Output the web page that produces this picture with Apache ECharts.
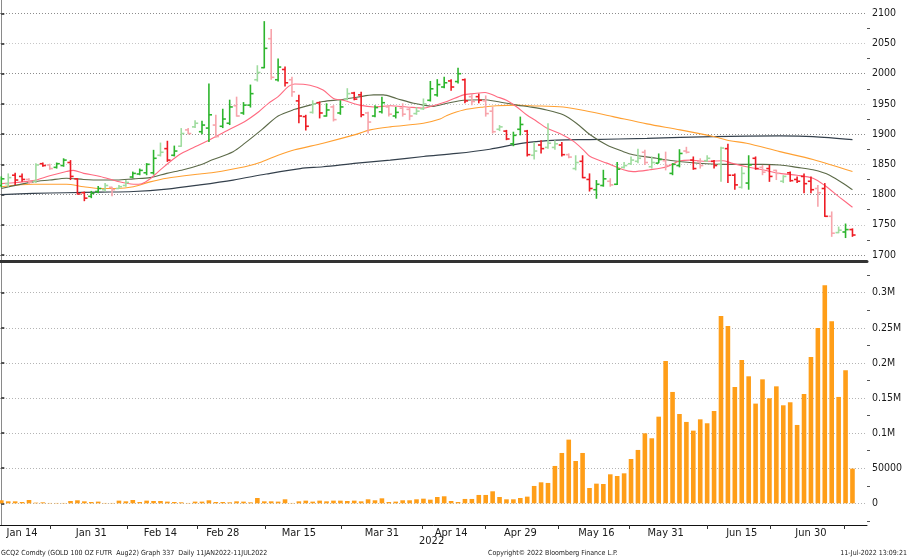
<!DOCTYPE html>
<html>
<head>
<meta charset="utf-8">
<title>GCQ2 Comdty</title>
<script src="https://cdn.jsdelivr.net/npm/echarts@6.0.0/dist/echarts.min.js"></script>
<style>
  html, body { margin: 0; padding: 0; background: #fff; }
  #chart { width: 908px; height: 559px; }
</style>
</head>
<body>
<div id="chart"></div>
<script>
// bars are indexed by trading day: 0 = 11 Jan 2022 ... 123 = 11 Jul 2022
const dateLabelIdx = [3, 13, 23, 32, 43, 55, 65, 75, 86, 96, 107, 117]
const dateLabels = ['Jan 14', 'Jan 31', 'Feb 14', 'Feb 28', 'Mar 15', 'Mar 31',
  'Apr 14', 'Apr 29', 'May 16', 'May 31', 'Jun 15', 'Jun 30']
const dateTickIdx = [7, 18.2, 28.3, 38.2, 49.1, 60.9, 69.9, 80.5, 90.8, 102, 111.1, 121.8]

const opens = [
  1815, 1818, 1832, 1830, 1825, 1822, 1851, 1849, 1845, 1848,
  1853, 1826, 1803, 1797, 1805, 1808, 1812, 1810, 1815, 1829,
  1834, 1836, 1836, 1865, 1876, 1865, 1880, 1907, 1912, 1904,
  1910, 1915, 1913, 1918, 1947, 1935, 1948, 1990, 2010, 2058,
  1990, 2007, 1990, 1955, 1929, 1936, 1952, 1930, 1945, 1935,
  1958, 1968, 1965, 1935, 1930, 1937, 1945, 1930, 1943, 1941,
  1934, 1942, 1956, 1965, 1978, 1988, 1987, 1990, 1962, 1962,
  1955, 1938, 1908, 1905, 1884, 1908, 1905, 1865, 1882, 1878,
  1878, 1882, 1866, 1843, 1855, 1825, 1808, 1815, 1822, 1817,
  1845, 1851, 1855, 1870, 1846, 1852, 1856, 1835, 1848, 1872,
  1857, 1854, 1856, 1855, 1850, 1876, 1832, 1812, 1819, 1860,
  1845, 1843, 1840, 1822, 1836, 1825, 1830, 1822, 1810, 1810,
  1764, 1737, 1738, 1742]
const highs = [
  1830, 1835, 1836, 1835, 1827, 1852, 1853, 1851, 1853, 1860,
  1857, 1827, 1805, 1806, 1814, 1819, 1813, 1816, 1824, 1838,
  1843, 1852, 1874, 1886, 1889, 1881, 1910, 1910, 1923, 1922,
  1984, 1932, 1942, 1957, 1962, 1953, 1982, 2014, 2087, 2074,
  2025, 2012, 1995, 1965, 1932, 1956, 1954, 1951, 1948, 1956,
  1976, 1970, 1970, 1937, 1948, 1962, 1948, 1945, 1951, 1945,
  1945, 1959, 1988, 1991, 1995, 1991, 2010, 1992, 1967, 1967,
  1964, 1945, 1915, 1907, 1904, 1929, 1907, 1887, 1890, 1918,
  1890, 1887, 1868, 1865, 1865, 1835, 1824, 1841, 1827, 1854,
  1854, 1863, 1876, 1874, 1863, 1868, 1871, 1852, 1875, 1879,
  1863, 1860, 1865, 1857, 1879, 1884, 1835, 1846, 1865, 1863,
  1849, 1849, 1841, 1832, 1838, 1830, 1835, 1830, 1816, 1819,
  1772, 1747, 1752, 1744]
const lows = [
  1812, 1813, 1816, 1821, 1817, 1819, 1846, 1841, 1843, 1846,
  1824, 1800, 1789, 1794, 1802, 1805, 1797, 1809, 1813, 1827,
  1832, 1832, 1833, 1863, 1854, 1863, 1879, 1900, 1910, 1900,
  1887, 1894, 1910, 1915, 1929, 1932, 1944, 1987, 2009, 1990,
  1987, 1979, 1962, 1918, 1906, 1934, 1926, 1929, 1921, 1932,
  1956, 1956, 1928, 1901, 1928, 1934, 1929, 1926, 1929, 1923,
  1932, 1940, 1954, 1962, 1976, 1972, 1984, 1951, 1948, 1951,
  1929, 1901, 1905, 1890, 1880, 1898, 1863, 1858, 1868, 1876,
  1874, 1863, 1860, 1840, 1827, 1805, 1793, 1813, 1813, 1816,
  1843, 1849, 1852, 1849, 1843, 1852, 1840, 1832, 1845, 1868,
  1841, 1843, 1854, 1843, 1821, 1819, 1808, 1810, 1808, 1841,
  1832, 1821, 1824, 1819, 1821, 1819, 1802, 1802, 1780, 1763,
  1730, 1736, 1728, 1730]
const closes = [
  1826, 1828, 1824, 1825, 1820, 1849, 1848, 1843, 1851, 1857,
  1830, 1801, 1794, 1802, 1810, 1815, 1808, 1813, 1820, 1835,
  1840, 1850, 1860, 1870, 1857, 1872, 1901, 1901, 1918, 1915,
  1932, 1896, 1925, 1945, 1930, 1948, 1967, 2002, 2042, 1994,
  2011, 1985, 1970, 1930, 1913, 1950, 1935, 1940, 1924, 1945,
  1967, 1958, 1932, 1920, 1944, 1952, 1933, 1936, 1933, 1930,
  1938, 1950, 1975, 1982, 1985, 1978, 2000, 1955, 1954, 1956,
  1934, 1904, 1912, 1892, 1898, 1916, 1866, 1872, 1876, 1885,
  1884, 1866, 1862, 1853, 1828, 1810, 1817, 1826, 1816, 1842,
  1848, 1857, 1860, 1853, 1853, 1858, 1848, 1850, 1868, 1870,
  1843, 1848, 1860, 1848, 1877, 1832, 1816, 1835, 1849, 1843,
  1837, 1830, 1835, 1830, 1823, 1822, 1818, 1808, 1803, 1764,
  1736, 1741, 1742, 1733]
// bar shade as drawn: G green, g pale green, R red, r pale red
const shades = ('GgRRrgRrGG' + 'RRRGGgrggG' + 'GGGgRGgrgG' + 'GrGGrGGgGr' +
  'GRrRRgRGrG' + 'gRRrGGrGrr' + 'ggGGGRGRrR' + 'rrgRGGRgRg' +
  'gRrgRRGGrG' + 'gggrgGrGGr' + 'RrgRgRRgGR' + 'rRrgRRRRrR' + 'rgGR').split('')

const volumes = [
  4300, 2800, 2800, 1900, 4700, 950, 1400, 500, 500, 500,
  3300, 4300, 2800, 1900, 2400, 500, 500, 3800, 2800, 4700,
  1900, 3800, 3300, 3300, 2400, 1900, 1400, 500, 2400, 2400,
  4300, 1900, 1900, 1400, 2800, 2400, 1400, 7600, 2800, 2800,
  2400, 5700, 500, 2800, 3800, 2400, 3800, 2800, 3800, 3800,
  3300, 3800, 2800, 5700, 4300, 7100, 1900, 2400, 4300, 4300,
  5700, 6600, 5200, 9000, 10000, 3300, 1900, 6200, 6200, 11900,
  11900, 17100, 9000, 5700, 5700, 7600, 9500, 24700, 29900, 29000,
  53200, 71700, 90700, 60300, 71700, 21800, 28000, 27500, 41300, 38900,
  42700, 63100, 76000, 99700, 92600, 123400, 202700, 158600, 127200, 115900,
  103500, 119600, 114000, 131500, 266800, 252600, 165700, 204200, 180900, 142000,
  176600, 149600, 166600, 139600, 143900, 111600, 155700, 208400, 249700, 310500,
  259200, 151500, 189400, 49400]

// moving averages: [bar index, price]
const maFast = [[0, 1818], [2.2, 1820], [4.6, 1823], [7, 1831], [9.4, 1838], [10.4, 1840],
  [11.9, 1835], [14.3, 1830], [16.7, 1822], [19.1, 1817], [20.3, 1818], [21.5, 1826],
  [22.7, 1838], [25.6, 1865], [28, 1879], [30, 1890], [31, 1896], [32.8, 1907],
  [35.2, 1921], [37.2, 1937], [38.6, 1951], [40, 1962], [41.5, 1979], [42.4, 1983],
  [44.6, 1981], [46.5, 1973], [48, 1959], [49.4, 1956], [51.8, 1948], [53.8, 1945],
  [56.2, 1947], [58.6, 1945], [61, 1943], [62.4, 1947], [64.4, 1954], [66.8, 1965],
  [68.2, 1967], [69.9, 1969], [71.6, 1962], [73, 1956], [74.5, 1945], [75.9, 1932],
  [77.4, 1921], [78.8, 1910], [80.7, 1901], [82.7, 1888], [84.1, 1874], [85.1, 1863],
  [87.5, 1852], [89.9, 1841], [91.3, 1838], [93.7, 1841], [96.2, 1846], [98.1, 1856],
  [99.5, 1857], [101.9, 1855], [104.3, 1856], [105.5, 1852], [107.7, 1846], [110, 1841],
  [112.5, 1835], [115, 1832], [117.3, 1827], [119, 1815], [121.2, 1795], [123, 1779]]
const maMid = [[0, 1810], [4.6, 1821], [7, 1824], [9.4, 1827], [11.9, 1825], [14.3, 1824],
  [16.7, 1824], [19.1, 1826], [21.5, 1828], [23.9, 1835], [26.3, 1841], [28.7, 1849],
  [30.4, 1857], [33.5, 1871], [35.2, 1885], [37.6, 1907], [40, 1930], [42.4, 1941],
  [44.6, 1948], [46.5, 1954], [49, 1957], [51.4, 1961], [53.8, 1965], [55.2, 1965],
  [57.1, 1959], [59.6, 1951], [61, 1948], [62.4, 1946], [64.4, 1951], [66.8, 1956],
  [69.7, 1957], [71.6, 1954], [74.5, 1948], [76.4, 1945], [78.8, 1940], [81.2, 1932],
  [83.1, 1918], [85.1, 1899], [87.5, 1882], [89.9, 1871], [91.3, 1866], [94.7, 1860],
  [97.1, 1856], [99.5, 1853], [101.9, 1851], [104.3, 1850], [107, 1850], [110, 1850],
  [112.5, 1849], [115, 1845], [117.3, 1841], [119.7, 1832], [123, 1808]]
const maSlow = [[0, 1813], [4.6, 1817], [9.4, 1817], [11.9, 1813], [14.3, 1810], [16.7, 1810],
  [19.1, 1813], [21.5, 1821], [23.9, 1827], [28.7, 1834], [30.4, 1836], [35.2, 1846],
  [37.6, 1854], [40, 1865], [42.4, 1874], [46.5, 1885], [51.4, 1900], [53.3, 1907],
  [56.2, 1912], [61, 1918], [63.4, 1925], [64.4, 1931], [66.8, 1940], [69.7, 1945],
  [71.6, 1947], [74.5, 1948], [76.4, 1947], [81.2, 1945], [85.1, 1937], [88.4, 1929],
  [93.3, 1917], [98.1, 1907], [102.9, 1896], [105.3, 1889], [107.7, 1885], [112.5, 1871],
  [117.3, 1858], [123, 1838]]
const maLong = [[0, 1800], [4.6, 1802], [9.4, 1803], [14.3, 1804], [19.1, 1805], [23.9, 1809],
  [28.7, 1816], [33.5, 1824], [38.3, 1834], [43.2, 1843], [46.5, 1846], [51.4, 1852],
  [56.2, 1857], [61, 1863], [65.8, 1868], [70.6, 1875], [75.4, 1885], [80.3, 1890],
  [85, 1891], [93.3, 1893], [102.9, 1896], [112.5, 1897], [117.3, 1896], [123, 1891]]

const priceTicks = [1700, 1750, 1800, 1850, 1900, 1950, 2000, 2050, 2100]
const priceMinorTicks = [1725, 1775, 1825, 1875, 1925, 1975, 2025, 2075]
const volTicks = [0, 50000, 100000, 150000, 200000, 250000, 300000]
const volTickLabels = ['0', '50000', '0.1M', '0.15M', '0.2M', '0.25M', '0.3M']
const volMinorTicks = [-25000, 25000, 75000, 125000, 175000, 225000, 275000, 325000]

const FONT = "'DejaVu Sans Condensed', 'DejaVu Sans', sans-serif"
const SHADE_COLORS = { G: '#2db52d', g: '#9fdc9f', R: '#ee1c24', r: '#f7a4ab' }
const X_MIN = -0.19
const X_MAX = 125.1

const dateLabelAt = {}
dateLabelIdx.forEach((v, k) => { dateLabelAt[v] = dateLabels[k] })
const volLabelAt = {}
volTicks.forEach((v, k) => { volLabelAt[v] = volTickLabels[k] })

// OHLC bar: high-low stem, open tick left, close tick right
function renderOhlc(params, api) {
  const i = api.value(0)
  const o = api.coord([i, api.value(1)])
  const h = api.coord([i, api.value(2)])
  const l = api.coord([i, api.value(3)])
  const c = api.coord([i, api.value(4)])
  const color = SHADE_COLORS[shades[params.dataIndex]]
  const t = api.size([1, 0])[0] * 0.45
  const mk = (x1, y1, x2, y2) => ({
    type: 'line',
    shape: { x1, y1, x2, y2 },
    style: { stroke: color, lineWidth: 1.6 },
  })
  return {
    type: 'group',
    children: [
      mk(h[0], h[1], l[0], l[1]),
      mk(o[0] - t, o[1], o[0], o[1]),
      mk(c[0], c[1], c[0] + t, c[1]),
    ],
  }
}

function maSeries(data, color, width) {
  return {
    type: 'line',
    xAxisIndex: 0,
    yAxisIndex: 0,
    data,
    smooth: 0.3,
    symbol: 'none',
    lineStyle: { color, width },
    z: 2,
    silent: true,
  }
}

const xText = { color: '#1a1a1a', fontFamily: FONT, fontSize: 11 }
const yText = { color: '#1a1a1a', fontFamily: FONT, fontSize: 10.5 }

const option = {
  animation: false,
  backgroundColor: '#fff',
  grid: [
    { left: 0, top: 0, width: 867, height: 261 },
    { left: 0, top: 262, width: 867, height: 263 },
  ],
  xAxis: [
    {
      gridIndex: 0, type: 'value', min: X_MIN, max: X_MAX,
      axisLine: { show: true, onZero: false, lineStyle: { color: '#333', width: 3 } },
      axisTick: { show: false }, axisLabel: { show: false }, splitLine: { show: false },
    },
    {
      gridIndex: 1, type: 'value', min: X_MIN, max: X_MAX,
      axisLine: { show: true, onZero: false, lineStyle: { color: '#111', width: 1 } },
      axisTick: { show: true, customValues: dateTickIdx, length: 4, lineStyle: { color: '#333' } },
      axisLabel: {
        customValues: dateLabelIdx, margin: 3,
        formatter: (v) => dateLabelAt[v] || '',
        ...xText,
      },
      splitLine: { show: false },
    },
  ],
  yAxis: [
    {
      gridIndex: 0, type: 'value', position: 'right', min: 1690, max: 2122,
      axisLine: { show: true, lineStyle: { color: '#8a8a8a' } },
      axisTick: { show: true, customValues: priceTicks, length: 3, lineStyle: { color: '#222', width: 1.5 } },
      axisLabel: { customValues: priceTicks, margin: 5, formatter: (v) => String(v), ...yText },
      splitLine: { show: true, lineStyle: { color: ['#8c8c8c', '#c6c6c6'], type: [1, 2], width: 1 } },
    },
    {
      gridIndex: 0, type: 'value', position: 'right', min: 1690, max: 2122,
      axisLine: { show: false },
      axisTick: { show: true, customValues: priceMinorTicks, length: 3, lineStyle: { color: '#555' } },
      axisLabel: { show: false }, splitLine: { show: false },
    },
    {
      gridIndex: 1, type: 'value', position: 'right', min: -30900, max: 343700,
      axisLine: { show: true, lineStyle: { color: '#8a8a8a' } },
      axisTick: { show: true, customValues: volTicks, length: 3, lineStyle: { color: '#222', width: 1.5 } },
      axisLabel: { customValues: volTicks, margin: 5, formatter: (v) => volLabelAt[v], ...yText },
      splitLine: { show: true, lineStyle: { color: '#b4b4b4', type: [1, 2], width: 1 } },
    },
    {
      gridIndex: 1, type: 'value', position: 'right', min: -30900, max: 343700,
      axisLine: { show: false },
      axisTick: { show: true, customValues: volMinorTicks, length: 3, lineStyle: { color: '#555' } },
      axisLabel: { show: false }, splitLine: { show: false },
    },
  ],
  series: [
    maSeries(maLong, '#34404c', 1.2),
    maSeries(maSlow, '#ffa032', 1.1),
    maSeries(maMid, '#5c6a48', 1.1),
    maSeries(maFast, '#ff6a80', 1.1),
    {
      type: 'custom',
      xAxisIndex: 0,
      yAxisIndex: 0,
      renderItem: renderOhlc,
      data: opens.map((o, i) => [i, o, highs[i], lows[i], closes[i]]),
      encode: { x: 0, y: [1, 2, 3, 4] },
      z: 3,
      silent: true,
    },
    {
      type: 'bar',
      xAxisIndex: 1,
      yAxisIndex: 2,
      data: volumes.map((v, i) => [i, v]),
      barWidth: 4.6,
      itemStyle: { color: '#ff9e18' },
      silent: true,
    },
  ],
  graphic: [
    {
      type: 'text', left: 433 - 14, top: 536,
      style: { text: '2022', font: `11px ${FONT}`, fill: '#1a1a1a' },
    },
    {
      type: 'text', left: 1, top: 550,
      style: { text: 'GCQ2 Comdty (GOLD 100 OZ FUTR  Aug22) Graph 337  Daily 11JAN2022-11JUL2022', font: `7px ${FONT}`, fill: '#222' },
    },
    {
      type: 'text', left: 488, top: 550,
      style: { text: 'Copyright\u00a9 2022 Bloomberg Finance L.P.', font: `7px ${FONT}`, fill: '#222' },
    },
    {
      type: 'text', right: 1, top: 550,
      style: { text: '11-Jul-2022 13:09:21', font: `7px ${FONT}`, fill: '#222' },
    },
  ],
}

const chart = echarts.init(document.getElementById('chart'), null, { renderer: 'canvas' })
chart.setOption(option)
</script>
</body>
</html>
